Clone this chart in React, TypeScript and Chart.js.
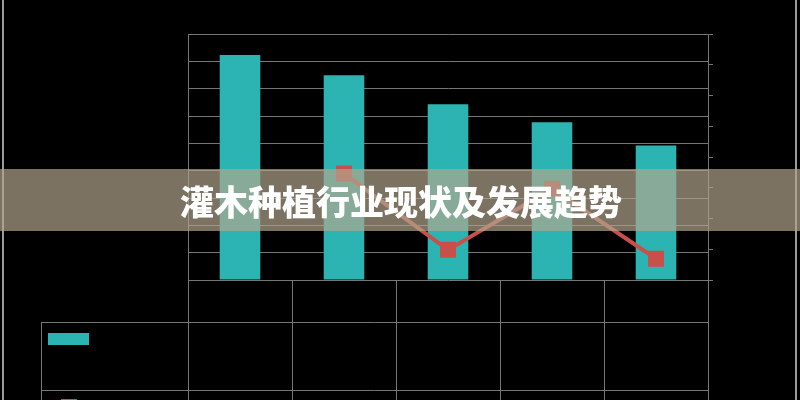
import React, { useEffect, useRef } from 'react';
import { Chart, registerables } from 'chart.js';

Chart.register(...registerables);

// ---- data ----
const categories = ['2019年', '2020年', '2021年', '2022年', '2023年'];
const barSeriesName = '市场规模（亿元）';
const lineSeriesName = '增长率（%）';
const barValues = [82.3, 74.9, 64.3, 57.7, 49.2];
const lineValues: (number | null)[] = [null, 3.46, 0.98, 2.97, 0.69];
const leftAxisMax = 90;
const leftAxisStep = 10;
const rightAxisMax = 8;
const rightAxisStep = 1;
const titleText = '灌木种植行业现状及发展趋势';

// ---- styles ----
const BAR_COLOR = '#2cb4b3';
const LINE_COLOR = '#c8504b';
const GRID = '#767676';
const OUTER = '#9a9a9a';
const BANNER = 'rgba(178,165,142,0.69)';

const half = (v: number) => Math.round(v) + 0.5;

const overlayPlugin = {
  id: 'overlay',
  afterDraw(chart: any) {
    const { ctx, chartArea, scales } = chart;
    const xs = scales.x;
    const n = categories.length;
    const cw = (chartArea.right - chartArea.left) / n;
    const boundary = (i: number) =>
      i < n ? xs.getPixelForValue(i) - cw / 2 : xs.getPixelForValue(n - 1) + cw / 2;

    const headTop = chartArea.bottom;
    const row1Top = headTop + 42;
    const row2Top = row1Top + 68;
    const tableBottom = row2Top + 68;
    const labelLeft = 41;

    ctx.save();
    // outer frame lines
    ctx.strokeStyle = OUTER;
    ctx.lineWidth = 2;
    ctx.beginPath();
    ctx.moveTo(3, 0);
    ctx.lineTo(3, chart.height);
    ctx.moveTo(796, 0);
    ctx.lineTo(796, chart.height);
    ctx.stroke();

    // data table
    ctx.strokeStyle = GRID;
    ctx.lineWidth = 1;
    ctx.beginPath();
    for (let i = 0; i <= n; i++) {
      const px = half(boundary(i));
      ctx.moveTo(px, headTop);
      ctx.lineTo(px, tableBottom);
    }
    ctx.moveTo(half(labelLeft), row1Top);
    ctx.lineTo(half(labelLeft), tableBottom);
    [row1Top, row2Top, tableBottom].forEach((y) => {
      ctx.moveTo(labelLeft, half(y));
      ctx.lineTo(boundary(n), half(y));
    });
    ctx.stroke();

    // table text (black, as in the original)
    ctx.fillStyle = '#000';
    ctx.font = '12px "Noto Sans CJK SC", sans-serif';
    ctx.textAlign = 'center';
    ctx.textBaseline = 'middle';
    categories.forEach((c, i) => {
      ctx.fillText(c, xs.getPixelForValue(i), (headTop + row1Top) / 2);
      const bv = barValues[i];
      ctx.fillText(String(bv), xs.getPixelForValue(i), (row1Top + row2Top) / 2);
      const lv = lineValues[i];
      if (lv !== null) ctx.fillText(String(lv), xs.getPixelForValue(i), (row2Top + tableBottom) / 2);
    });
    ctx.textAlign = 'left';
    ctx.fillText(barSeriesName, 95, row1Top + 17);
    ctx.fillText(lineSeriesName, 95, row2Top + 17);

    // legend keys
    ctx.fillStyle = BAR_COLOR;
    ctx.fillRect(48, row1Top + 11, 41, 12);
    ctx.strokeStyle = LINE_COLOR;
    ctx.lineWidth = 4;
    ctx.beginPath();
    ctx.moveTo(48, row2Top + 17);
    ctx.lineTo(89, row2Top + 17);
    ctx.stroke();
    ctx.fillStyle = LINE_COLOR;
    ctx.fillRect(61, row2Top + 9, 16, 16);

    // banner
    ctx.fillStyle = BANNER;
    ctx.fillRect(0, 169, chart.width, 62);
    ctx.fillStyle = '#ffffff';
    ctx.font = '900 34px "Noto Sans CJK SC", sans-serif';
    ctx.textAlign = 'center';
    ctx.textBaseline = 'middle';
    ctx.fillText(titleText, 401, 202);
    ctx.restore();
  },
};

export default function App() {
  const ref = useRef<HTMLCanvasElement | null>(null);

  useEffect(() => {
    if (!ref.current) return;
    const chart = new Chart(ref.current, {
      type: 'bar',
      data: {
        labels: categories,
        datasets: [
          {
            type: 'line',
            label: lineSeriesName,
            data: lineValues,
            yAxisID: 'y1',
            borderColor: LINE_COLOR,
            backgroundColor: LINE_COLOR,
            borderWidth: 4,
            pointStyle: 'rect',
            pointRadius: 11.3,
            pointBorderWidth: 0,
            pointBackgroundColor: LINE_COLOR,
            spanGaps: false,
            order: 0,
          } as any,
          {
            type: 'bar',
            label: barSeriesName,
            data: barValues,
            yAxisID: 'y',
            backgroundColor: BAR_COLOR,
            categoryPercentage: 1,
            barPercentage: 0.39,
            order: 1,
          },
        ],
      },
      options: {
        responsive: false,
        animation: false,
        devicePixelRatio: 1,
        layout: { padding: { left: 188, right: 87, top: 34, bottom: 112 } },
        plugins: { legend: { display: false }, tooltip: { enabled: false }, title: { display: false } },
        scales: {
          x: {
            ticks: { display: false },
            grid: { display: false },
            border: { display: false },
          },
          y: {
            position: 'left',
            min: 0,
            max: leftAxisMax,
            ticks: { display: false, stepSize: leftAxisStep },
            grid: { color: GRID, lineWidth: 1, drawTicks: false },
            border: { display: true, color: GRID, width: 1 },
          },
          y1: {
            position: 'right',
            min: 0,
            max: rightAxisMax,
            ticks: { display: false, stepSize: rightAxisStep },
            grid: { drawOnChartArea: false, color: GRID, tickLength: 5, drawTicks: true },
            border: { display: true, color: GRID, width: 1 },
          },
        },
      },
      plugins: [overlayPlugin],
    });
    return () => chart.destroy();
  }, []);

  return (
    <div style={{ position: 'fixed', left: 0, top: 0, width: 800, height: 400, background: '#000', overflow: 'hidden' }}>
      <canvas ref={ref} width={800} height={400} style={{ display: 'block', width: 800, height: 400 }} />
    </div>
  );
}
